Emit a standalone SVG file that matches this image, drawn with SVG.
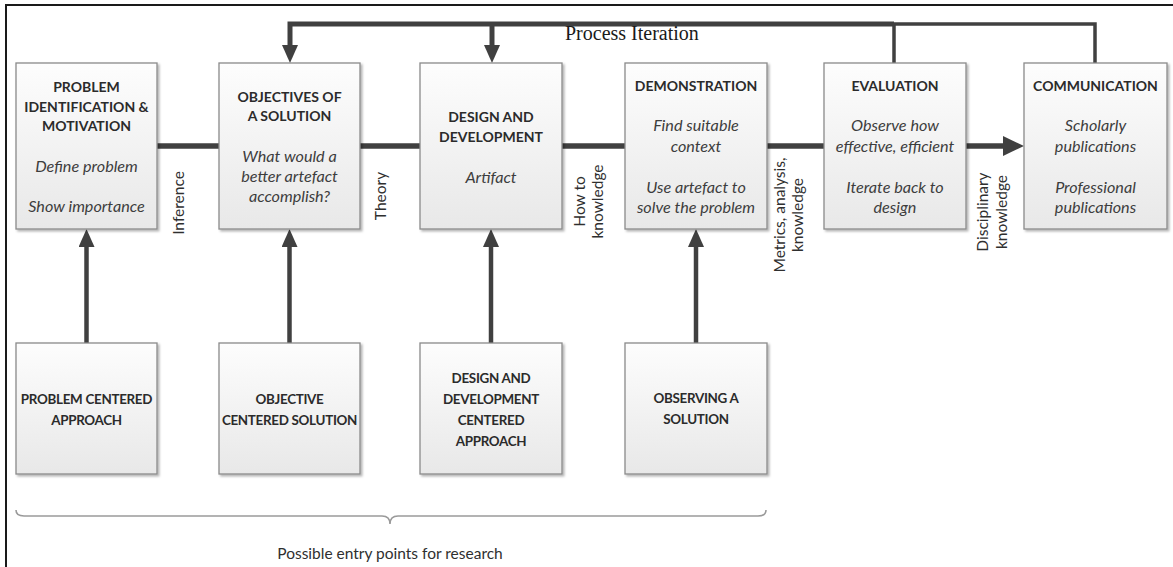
<svg xmlns="http://www.w3.org/2000/svg" width="1173" height="567" viewBox="0 0 1173 567">
  <style>
    .box { fill: url(#boxFill); stroke: #8a8a8a; stroke-width: 1.3; filter: url(#shadow); }
    .title { font-family: Lato, "Open Sans", sans-serif; font-weight: 700; font-size: 14px; fill: #2b2b2b; text-anchor: middle; }
    .sub { font-family: Lato, "Open Sans", sans-serif; font-style: italic; font-size: 16.2px; fill: #3d3d3d; text-anchor: middle; }
    .entry { font-family: Lato, "Open Sans", sans-serif; font-weight: 700; font-size: 13.4px; fill: #2b2b2b; text-anchor: middle; letter-spacing: -0.3px; }
    .lbl { font-family: Lato, "Open Sans", sans-serif; font-size: 15.5px; fill: #2f2f2f; text-anchor: middle; }
    .flow { fill: none; stroke: #404040; stroke-linejoin: miter; }
    .note { font-family: "Liberation Serif", "Times New Roman", serif; font-size: 20px; fill: #1a1a1a; }
  </style>
  <defs>
    <linearGradient id="boxFill" x1="0" y1="0" x2="0" y2="1">
      <stop offset="0" stop-color="#fdfdfd"/>
      <stop offset="1" stop-color="#e8e8e8"/>
    </linearGradient>
    <filter id="shadow" x="-10%" y="-10%" width="130%" height="130%">
      <feDropShadow dx="1.8" dy="1.8" stdDeviation="1.2" flood-color="#000" flood-opacity="0.3"/>
    </filter>
    <marker id="headSmall" markerUnits="userSpaceOnUse" markerWidth="18" markerHeight="16" refX="10" refY="8" orient="auto">
      <path d="M0,0 L18,8 L0,16 z" fill="#404040"/>
    </marker>
    <marker id="headBig" markerUnits="userSpaceOnUse" markerWidth="21" markerHeight="20" refX="2" refY="10" orient="auto">
      <path d="M0,0 L21,10 L0,20 z" fill="#404040"/>
    </marker>
  </defs>

  <rect width="1173" height="567" fill="#ffffff"/>
  <!-- frame: top and left edges only -->
  <path d="M6,567 V5 H1173" fill="none" stroke="#1a1a1a" stroke-width="2"/>

  <g id="connectors">
    <!-- main process line -->
    <path class="flow" d="M157,146 H1005" stroke-width="5.5" marker-end="url(#headBig)"/>
    <!-- process iteration loop -->
    <path class="flow" d="M894,63 V24 H1095 V63" stroke-width="3.5"/>
    <path class="flow" d="M894,24 H290 V55" stroke-width="5" marker-end="url(#headSmall)"/>
    <path class="flow" d="M492,24 V55" stroke-width="5" marker-end="url(#headSmall)"/>
    <!-- entry point arrows -->
    <path class="flow" d="M86.5,343 V237" stroke-width="4.5" marker-end="url(#headSmall)"/>
    <path class="flow" d="M289.5,343 V237" stroke-width="4.5" marker-end="url(#headSmall)"/>
    <path class="flow" d="M491,343 V237" stroke-width="4.5" marker-end="url(#headSmall)"/>
    <path class="flow" d="M696,343 V237" stroke-width="4.5" marker-end="url(#headSmall)"/>
    <!-- brace under entry points -->
    <path d="M16,510 Q16,516 24,516 H382 Q390,516 390,524 Q390,516 398,516 H758 Q766,516 766,510" fill="none" stroke="#9a9a9a" stroke-width="1.6"/>
    <!-- connector labels -->
    <text class="note" x="565" y="40">Process Iteration</text>
    <text class="lbl" transform="translate(184,203) rotate(-90)">Inference</text>
    <text class="lbl" transform="translate(386,196) rotate(-90)">Theory</text>
    <text class="lbl" transform="translate(585,201.5) rotate(-90)">How to</text>
    <text class="lbl" transform="translate(603,201.5) rotate(-90)">knowledge</text>
    <text class="lbl" transform="translate(785,215) rotate(-90)">Metrics, analysis,</text>
    <text class="lbl" transform="translate(803,215) rotate(-90)">knowledge</text>
    <text class="lbl" transform="translate(988,212) rotate(-90)">Disciplinary</text>
    <text class="lbl" transform="translate(1007,212) rotate(-90)">knowledge</text>
    <text class="lbl" x="390" y="559" fill="#444">Possible entry points for research</text>
  </g>

  <g id="problem-identification">
    <rect class="box" x="16" y="63" width="141" height="166"/>
    <text class="title" x="86.5" y="92">PROBLEM</text>
    <text class="title" x="86.5" y="112">IDENTIFICATION &amp;</text>
    <text class="title" x="86.5" y="131">MOTIVATION</text>
    <text class="sub" x="86.5" y="172">Define problem</text>
    <text class="sub" x="86.5" y="212">Show importance</text>
  </g>

  <g id="objectives">
    <rect class="box" x="219" y="63" width="141" height="166"/>
    <text class="title" x="289.5" y="102">OBJECTIVES OF</text>
    <text class="title" x="289.5" y="121">A SOLUTION</text>
    <text class="sub" x="289.5" y="162">What would a</text>
    <text class="sub" x="289.5" y="182">better artefact</text>
    <text class="sub" x="289.5" y="202">accomplish?</text>
  </g>

  <g id="design-development">
    <rect class="box" x="420" y="63" width="142" height="166"/>
    <text class="title" x="491" y="122">DESIGN AND</text>
    <text class="title" x="491" y="142">DEVELOPMENT</text>
    <text class="sub" x="491" y="183">Artifact</text>
  </g>

  <g id="demonstration">
    <rect class="box" x="625" y="63" width="142" height="166"/>
    <text class="title" x="696" y="91">DEMONSTRATION</text>
    <text class="sub" x="696" y="131">Find suitable</text>
    <text class="sub" x="696" y="152">context</text>
    <text class="sub" x="696" y="193">Use artefact to</text>
    <text class="sub" x="696" y="213">solve the problem</text>
  </g>

  <g id="evaluation">
    <rect class="box" x="824" y="63" width="142" height="166"/>
    <text class="title" x="895" y="91">EVALUATION</text>
    <text class="sub" x="895" y="131">Observe how</text>
    <text class="sub" x="895" y="152">effective, efficient</text>
    <text class="sub" x="895" y="193">Iterate back to</text>
    <text class="sub" x="895" y="213">design</text>
  </g>

  <g id="communication">
    <rect class="box" x="1024" y="63" width="143" height="166"/>
    <text class="title" x="1095.5" y="91">COMMUNICATION</text>
    <text class="sub" x="1095.5" y="131">Scholarly</text>
    <text class="sub" x="1095.5" y="152">publications</text>
    <text class="sub" x="1095.5" y="193">Professional</text>
    <text class="sub" x="1095.5" y="213">publications</text>
  </g>

  <g id="problem-centered">
    <rect class="box" x="16" y="343" width="141" height="131"/>
    <text class="entry" x="86.5" y="404">PROBLEM CENTERED</text>
    <text class="entry" x="86.5" y="424.5">APPROACH</text>
  </g>

  <g id="objective-centered">
    <rect class="box" x="219" y="343" width="141" height="131"/>
    <text class="entry" x="289.5" y="404">OBJECTIVE</text>
    <text class="entry" x="289.5" y="424.5">CENTERED SOLUTION</text>
  </g>

  <g id="design-centered">
    <rect class="box" x="420" y="343" width="142" height="131"/>
    <text class="entry" x="491" y="383">DESIGN AND</text>
    <text class="entry" x="491" y="404">DEVELOPMENT</text>
    <text class="entry" x="491" y="424.5">CENTERED</text>
    <text class="entry" x="491" y="445.5">APPROACH</text>
  </g>

  <g id="observing">
    <rect class="box" x="625" y="343" width="142" height="131"/>
    <text class="entry" x="696" y="403">OBSERVING A</text>
    <text class="entry" x="696" y="423.5">SOLUTION</text>
  </g>
</svg>
